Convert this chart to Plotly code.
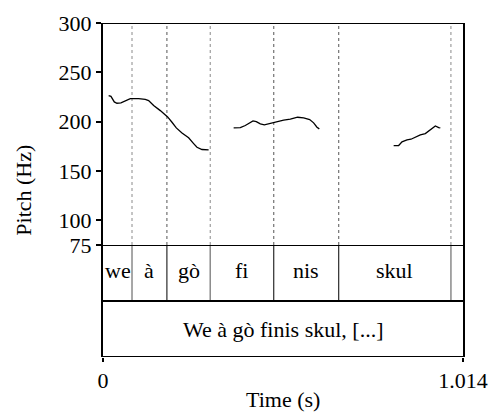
import plotly.graph_objects as go

# Pitch contour segments (time s, Hz)
seg1_t = [0.0159, 0.0224, 0.0318, 0.0393, 0.0506, 0.0628, 0.0769, 0.1004, 0.1190, 0.1285, 0.1426,
          0.1614, 0.1820, 0.1943, 0.2065, 0.2225, 0.2412, 0.2553, 0.2647, 0.2788, 0.2975]
seg1_f = [226.4, 225.7, 220.0, 218.7, 219.0, 221.4, 223.4, 223.4, 222.7, 221.4, 216.3,
          211.2, 204.8, 199.4, 193.7, 188.6, 183.6, 177.8, 174.1, 171.8, 171.4]
seg2_t = [0.3680, 0.3868, 0.4008, 0.4130, 0.4225, 0.4318, 0.4431, 0.4544, 0.4666, 0.4807,
          0.4947, 0.5088, 0.5276, 0.5482, 0.5651, 0.5821, 0.5933, 0.6027, 0.6093]
seg2_f = [193.7, 194.0, 196.1, 198.8, 200.8, 200.1, 197.8, 196.7, 197.8, 199.1,
          199.8, 201.5, 202.5, 204.5, 203.8, 202.1, 198.8, 194.4, 192.7]
seg3_t = [0.8187, 0.8328, 0.8422, 0.8563, 0.8675, 0.8797, 0.8938, 0.9079, 0.9220, 0.9361, 0.9455, 0.9501]
seg3_f = [175.8, 175.8, 179.5, 181.5, 182.2, 184.2, 186.6, 187.9, 192.0, 195.7, 194.0, 193.7]

# Tier 1 intervals
boundaries = [0.0, 0.0817, 0.180, 0.302, 0.481, 0.664, 0.980, 1.014]
syllables = ["we", "à", "gò", "fi", "nis", "skul", ""]
boundary_gray = [True, False, True, False, False, True]  # inner boundaries
tier2_text = "We à gò finis skul, [...]"

t_min, t_max = 0.0, 1.014
f_min, f_max = 75, 300
y_ticks = [75, 100, 150, 200, 250, 300]

FONT = "Liberation Serif"
FS = 22
split = 112 / 334

fig = go.Figure()
for t, f in [(seg1_t, seg1_f), (seg2_t, seg2_f), (seg3_t, seg3_f)]:
    fig.add_trace(go.Scatter(x=t, y=f, mode="lines", line=dict(color="black", width=1.3),
                             showlegend=False, hoverinfo="skip", xaxis="x", yaxis="y"))

shapes = []
inner = boundaries[1:-1]
for b, g in zip(inner, boundary_gray):
    col = "#8a8a8a" if g else "#555555"
    shapes.append(dict(type="line", xref="x", yref="y", x0=b, x1=b, y0=f_min, y1=f_max,
                       line=dict(color=col, width=1, dash="dot"), layer="below"))
    shapes.append(dict(type="line", xref="x", yref="y2", x0=b, x1=b, y0=1, y1=2,
                       line=dict(color="#8a8a8a" if g else "black", width=1.5 if g else 1)))
for yref, yv in [("y", f_max), ("y2", 2), ("y2", 1), ("y2", 0)]:
    shapes.append(dict(type="line", xref="paper", yref=yref, x0=0, x1=1, y0=yv, y1=yv,
                       line=dict(color="black", width=2)))

annotations = []
for i, s in enumerate(syllables):
    if s:
        annotations.append(dict(x=(boundaries[i] + boundaries[i + 1]) / 2, y=1.55, xref="x", yref="y2",
                                xanchor="center", yanchor="middle",
                                text=s, showarrow=False, font=dict(family=FONT, size=FS, color="black")))
annotations.append(dict(x=(t_min + t_max) / 2, y=0.5, xref="x", yref="y2", text=tier2_text,
                        xanchor="center", yanchor="middle",
                        showarrow=False, font=dict(family=FONT, size=FS, color="black")))
annotations.append(dict(x=-0.223, y=0.5, xref="paper", yref="paper", text="Pitch (Hz)", textangle=-90,
                        xanchor="center", yanchor="middle",
                        showarrow=False, font=dict(family=FONT, size=FS, color="black")))
annotations.append(dict(x=0.5, y=-0.128, xref="paper", yref="paper", text="Time (s)",
                        xanchor="center", yanchor="middle",
                        showarrow=False, font=dict(family=FONT, size=FS, color="black")))

fig.update_layout(
    width=492, height=414,
    margin=dict(l=103, r=29, t=23, b=57, autoexpand=False),
    paper_bgcolor="white", plot_bgcolor="white",
    font=dict(family=FONT, size=FS, color="black"),
    shapes=shapes, annotations=annotations,
    xaxis=dict(range=[t_min, t_max], anchor="y2", showgrid=False, zeroline=False, showline=False,
               automargin=False,
               tickvals=[t_min, t_max], ticktext=["0", "1.014"], ticks="outside", ticklen=4,
               tickwidth=2, tickcolor="black",
               tickfont=dict(family=FONT, size=FS, color="black")),
    yaxis=dict(domain=[split, 1], range=[f_min, f_max], showgrid=False, zeroline=False,
               automargin=False,
               showline=True, mirror=True, linecolor="black", linewidth=2,
               tickvals=y_ticks, ticks="outside", ticklen=5, tickwidth=2, tickcolor="black",
               tickfont=dict(family=FONT, size=FS, color="black")),
    yaxis2=dict(domain=[0, split], range=[0, 2], showgrid=False, zeroline=False,
                automargin=False,
                showline=True, mirror=True, linecolor="black", linewidth=2,
                showticklabels=False, ticks=""),
)
fig.write_html("out.html")
